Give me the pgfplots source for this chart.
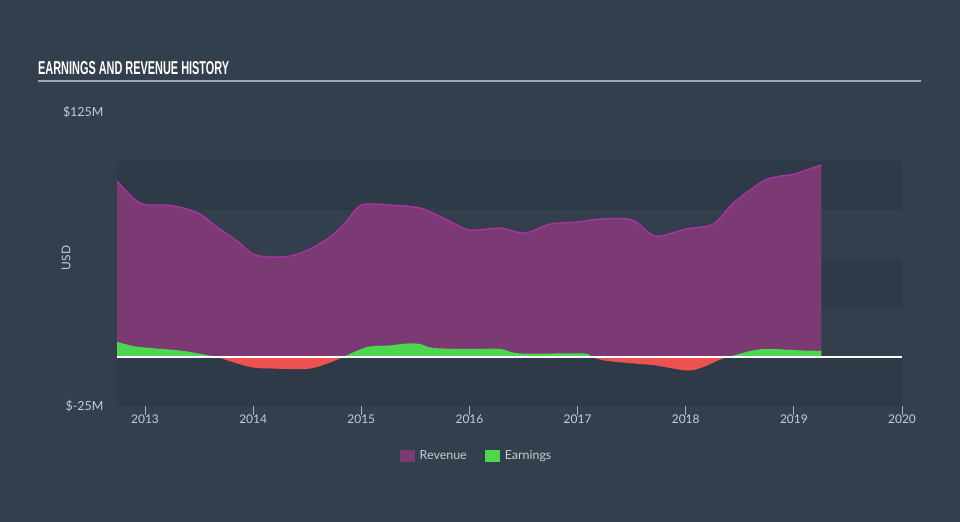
\documentclass[border=0pt]{standalone}
\usepackage{pgfplots}
\pgfplotsset{compat=1.18}
\usepackage{fontspec}
\setmainfont{Lato}
\newfontfamily\titlefont{Liberation Sans}

\definecolor{bg}{RGB}{51,63,77}
\definecolor{band}{RGB}{46,58,72}
\definecolor{revfill}{RGB}{123,58,116}
\definecolor{revline}{RGB}{172,52,162}
\definecolor{earnpos}{RGB}{78,214,80}
\definecolor{earnneg}{RGB}{238,82,80}
\definecolor{txt}{RGB}{200,205,211}
\definecolor{axline}{RGB}{170,180,192}
\definecolor{rule}{RGB}{160,168,178}

\begin{document}
\begin{tikzpicture}[x=1bp,y=1bp]
\fill[bg] (0,0) rectangle (960,522);
\node[anchor=south west, inner sep=0, text=white] at (38,447)
  {\resizebox{191bp}{13bp}{\titlefont\bfseries EARNINGS AND REVENUE HISTORY}};
\draw[rule, line width=2bp] (38,441) -- (921,441);
\node[rotate=90, text=txt, font=\fontsize{12}{14}\selectfont] at (66,264) {USD};

\begin{axis}[
  at={(117bp,116bp)}, anchor=south west,
  scale only axis, width=785bp, height=294bp,
  xmin=2012.741, xmax=2020, ymin=-25, ymax=125,
  axis x line=bottom, axis y line*=left,
  x axis line style={-, draw=axline, line width=1bp},
  y axis line style={draw=none},
  xtick={2013,2014,2015,2016,2017,2018,2019,2020},
  xticklabels={2013,2014,2015,2016,2017,2018,2019,2020},
  xtick align=outside,
  x tick style={draw=axline, line width=1bp},
  major tick length=9bp,
  xticklabel style={text=txt, font=\fontsize{12}{14}\selectfont, yshift=4bp},
  ytick={-25,125},
  yticklabels={\$-25M,\$125M},
  y tick style={draw=none},
  yticklabel style={text=txt, font=\fontsize{12.5}{14}\selectfont, xshift=-10bp},
  legend style={at={(0.458,-0.17)}, anchor=center, draw=none, fill=none,
    legend columns=2, text=txt, font=\fontsize{12.5}{14}\selectfont,
    /tikz/every odd column/.append style={column sep=3bp},
    /tikz/every even column/.append style={column sep=16bp}},
  legend image code/.code={\fill[#1] (0bp,-6bp) rectangle (15bp,6bp);},
]
% background bands
\fill[band] (axis cs:2012.741,-25) rectangle (axis cs:2020,0);
\fill[band] (axis cs:2012.741,25) rectangle (axis cs:2020,50);
\fill[band] (axis cs:2012.741,75) rectangle (axis cs:2020,100);

% revenue
\addplot[fill=revfill, draw=none, smooth] coordinates {
(2012.741,89.8) (2012.954,78.5) (2013.204,77.5) (2013.352,76) (2013.509,72.9)
(2013.666,66.3) (2013.851,59.2) (2014.0,52.5) (2014.156,51) (2014.341,51.5)
(2014.526,55.1) (2014.711,61.2) (2014.850,68.3) (2015.0,77.5) (2015.266,77.5)
(2015.544,76) (2015.775,70.4) (2016.0,64.8) (2016.284,65.8) (2016.515,63.2)
(2016.747,67.8) (2017.0,68.9) (2017.209,70.4) (2017.505,69.9) (2017.718,61.7)
(2018.0,65.3) (2018.254,67.8) (2018.439,78.5) (2018.717,89.8) (2018.874,92.3)
(2019.0,93.3) (2019.254,98)} \closedcycle;
\addlegendentry{Revenue}
\addplot[revline, line width=1.3bp, smooth, forget plot] coordinates {
(2012.741,89.8) (2012.954,78.5) (2013.204,77.5) (2013.352,76) (2013.509,72.9)
(2013.666,66.3) (2013.851,59.2) (2014.0,52.5) (2014.156,51) (2014.341,51.5)
(2014.526,55.1) (2014.711,61.2) (2014.850,68.3) (2015.0,77.5) (2015.266,77.5)
(2015.544,76) (2015.775,70.4) (2016.0,64.8) (2016.284,65.8) (2016.515,63.2)
(2016.747,67.8) (2017.0,68.9) (2017.209,70.4) (2017.505,69.9) (2017.718,61.7)
(2018.0,65.3) (2018.254,67.8) (2018.439,78.5) (2018.717,89.8) (2018.874,92.3)
(2019.0,93.3) (2019.254,98)};

% earnings, positive parts
\addplot[fill=earnpos, draw=none, smooth] coordinates {
(2012.741,7.7) (2012.889,5.6) (2013.046,4.6) (2013.352,3.1) (2013.666,0)} \closedcycle;
\addlegendentry{Earnings}
\addplot[fill=earnpos, draw=none, smooth, forget plot] coordinates {
(2014.832,0) (2015.054,5.1) (2015.266,5.9) (2015.424,6.9) (2015.544,6.6)
(2015.664,4.6) (2015.979,4.1) (2016.284,4.1) (2016.469,1.8) (2017.052,1.8)
(2017.117,0)} \closedcycle;
\addplot[fill=earnpos, draw=none, smooth, forget plot] coordinates {
(2018.393,0) (2018.624,3.4) (2018.782,4.1) (2019.087,3.3) (2019.254,3.1)} \closedcycle;

% earnings, negative parts
\addplot[fill=earnneg, draw=none, smooth, forget plot] coordinates {
(2013.666,0) (2013.971,-5.1) (2014.184,-5.9) (2014.499,-6.1) (2014.684,-3.4)
(2014.832,0)} \closedcycle;
\addplot[fill=earnneg, draw=none, smooth, forget plot] coordinates {
(2017.117,0) (2017.274,-2) (2017.579,-3.6) (2017.699,-4.1) (2018.014,-6.9)
(2018.162,-5.1) (2018.319,-1.3) (2018.393,0)} \closedcycle;

% zero line
\addplot[white, line width=1.5bp, forget plot] coordinates {(2012.741,0) (2020,0)};
\end{axis}
\pgfresetboundingbox
\path (0,0) rectangle (960,522);
\end{tikzpicture}
\end{document}
